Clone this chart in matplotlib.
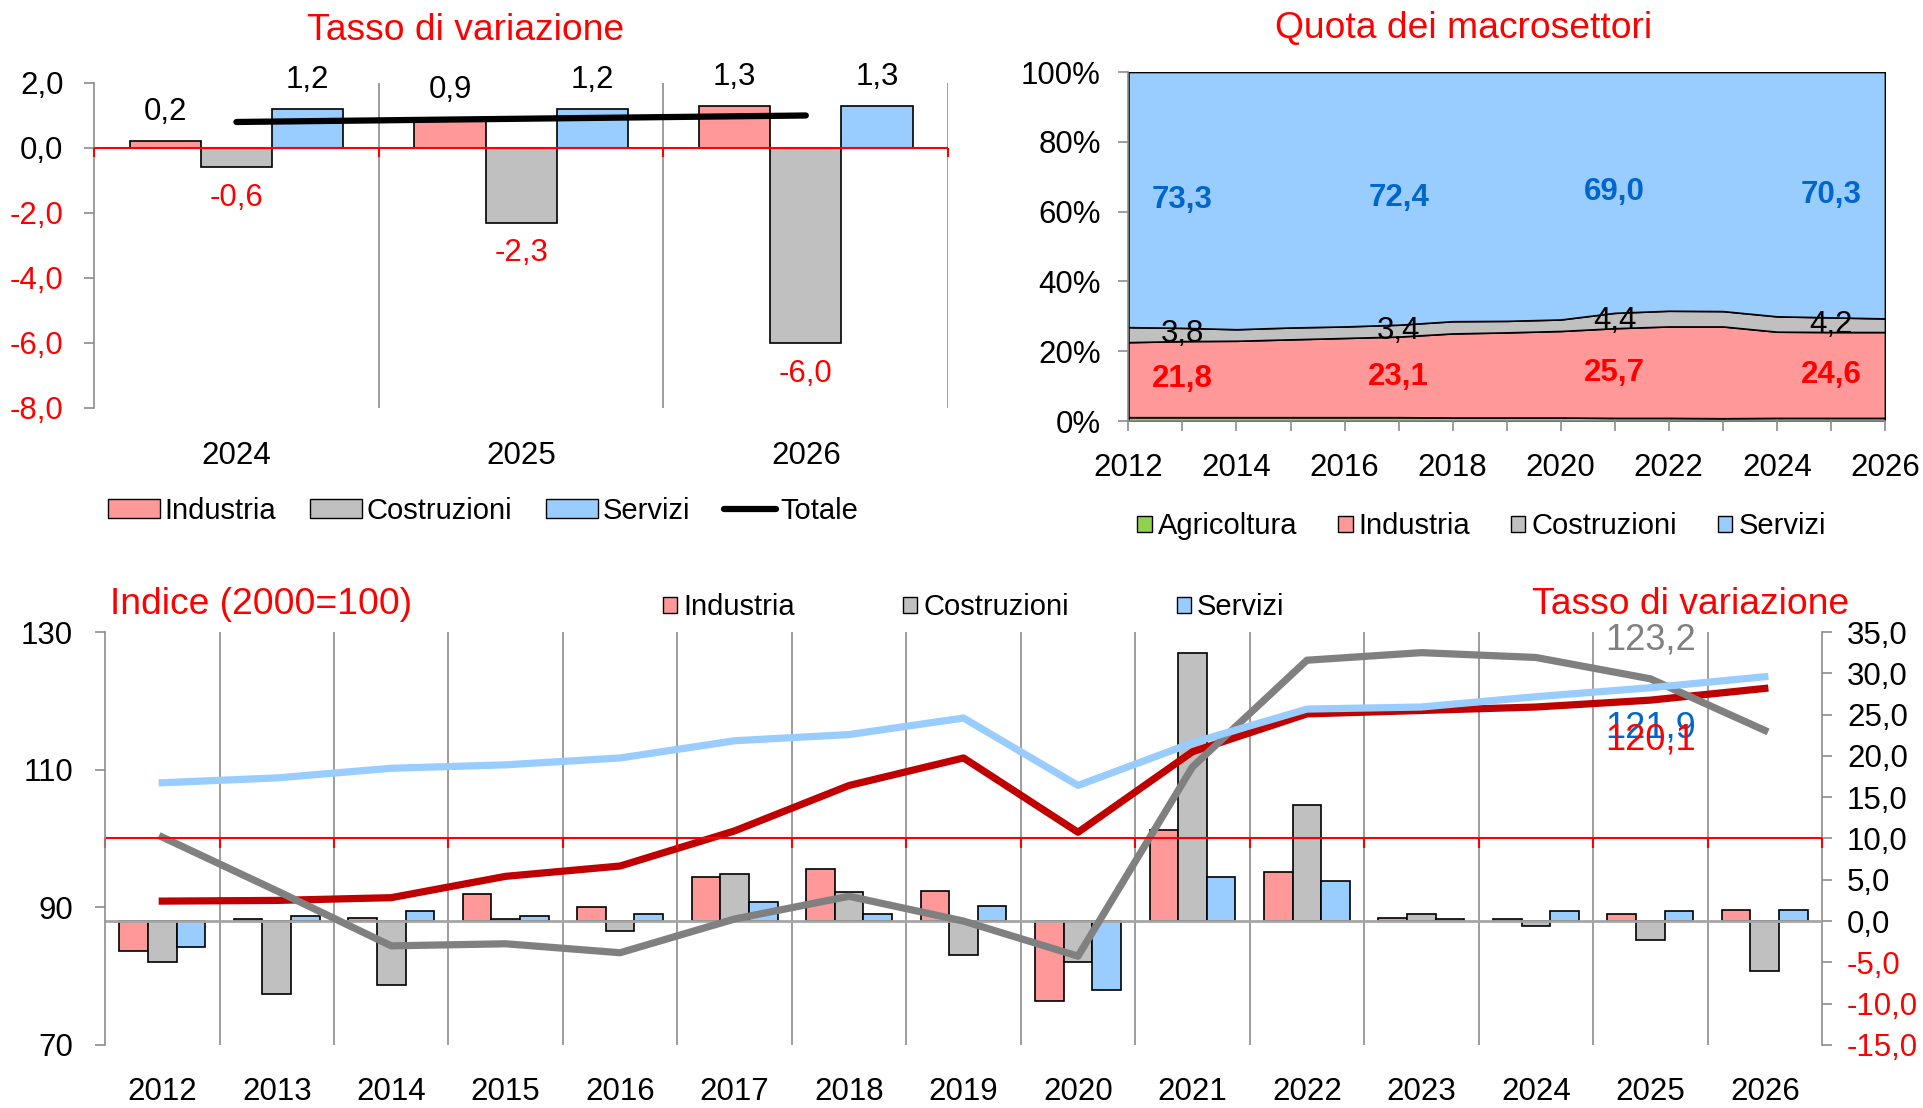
import numpy as np
import matplotlib
matplotlib.use('Agg')
import matplotlib.pyplot as plt
from matplotlib.patches import Patch
from matplotlib.lines import Line2D

plt.rcParams['font.family'] = ['Liberation Sans', 'DejaVu Sans']

# colori
C_IND = '#FF9999'
C_COS = '#C0C0C0'
C_SERV = '#99CCFF'
C_AGR = '#92D050'
GRID = '#8C8C8C'

# --- in alto a sinistra: tasso di variazione 2024-2026
tl_years = ['2024', '2025', '2026']
tl_ind = [0.2, 0.9, 1.3]
tl_cos = [-0.6, -2.3, -6.0]
tl_serv = [1.2, 1.2, 1.3]
tl_tot = [0.8, 0.9, 1.0]

# --- in alto a destra: quota dei macrosettori (%)
qt_years = list(range(2012, 2027))
qt_agr = [1.1, 1.1, 1.1, 1.1, 1.1, 1.1, 1.0, 1.0, 1.0, 0.9, 0.9, 0.8, 0.9, 0.9, 0.9]
qt_ind = [21.5, 21.8, 21.9, 22.3, 22.7, 23.1, 24.1, 24.4, 24.8, 25.7, 26.2, 26.3, 24.7, 24.6, 24.6]
qt_cos = [4.3, 3.8, 3.3, 3.4, 3.3, 3.4, 3.5, 3.3, 3.3, 4.4, 4.5, 4.4, 4.4, 4.2, 3.9]
qt_serv = [73.1, 73.3, 73.7, 73.2, 72.9, 72.4, 71.4, 71.3, 70.9, 69.0, 68.4, 68.5, 70.0, 70.3, 70.6]
qt_label_years = [2013, 2017, 2021, 2025]

# --- in basso: indice (2000=100) e tasso di variazione
bt_years = [str(y) for y in range(2012, 2027)]
idx_ind = [90.9, 91.0, 91.4, 94.5, 96.0, 101.1, 107.7, 111.7, 100.9, 112.6, 118.1, 118.6, 119.1, 120.1, 121.8]
idx_cos = [100.2, 92.4, 84.4, 84.7, 83.4, 88.3, 91.6, 88.0, 82.9, 110.4, 125.9, 127.0, 126.3, 123.2, 115.7]
idx_serv = [108.1, 108.8, 110.2, 110.7, 111.7, 114.2, 115.1, 117.5, 107.7, 113.9, 118.8, 119.1, 120.6, 121.9, 123.5]
var_ind = [-3.6, 0.2, 0.4, 3.3, 1.7, 5.3, 6.3, 3.7, -9.7, 11.0, 5.9, 0.4, 0.2, 0.9, 1.3]
var_cos = [-4.9, -8.8, -7.8, 0.2, -1.2, 5.7, 3.5, -4.1, -5.0, 32.4, 14.0, 0.8, -0.6, -2.3, -6.0]
var_serv = [-3.1, 0.6, 1.2, 0.6, 0.8, 2.3, 0.8, 1.8, -8.3, 5.3, 4.8, 0.25, 1.2, 1.2, 1.3]
label_year = '2025'


def fmt(v):
    return f'{v:.1f}'.replace('.', ',')


TICK_FS = 22.5
LEG_FS = 21
TITLE_FS = 26.8

fig = plt.figure(figsize=(19.24, 11.08), dpi=100)

# ================= in alto a sinistra =================
ax1 = fig.add_axes([0.0489, 0.6318, 0.4439, 0.2933])
x1 = np.arange(len(tl_years))
w = 0.25
ax1.bar(x1 - w, tl_ind, w, color=C_IND, edgecolor='black', linewidth=1.2, zorder=2)
ax1.bar(x1, tl_cos, w, color=C_COS, edgecolor='black', linewidth=1.2, zorder=2)
ax1.bar(x1 + w, tl_serv, w, color=C_SERV, edgecolor='black', linewidth=1.2, zorder=2)
ax1.plot(x1, tl_tot, color='black', linewidth=4.5, solid_capstyle='round', zorder=4)
ax1.set_xlim(-0.5, len(tl_years) - 0.5)
ax1.set_ylim(-8, 2)

bounds1 = np.arange(len(tl_years) + 1) - 0.5
ax1.vlines(bounds1[1:], -8, 2, color=GRID, linewidth=1.2, zorder=1)
ax1.axhline(0, color='red', linewidth=1.5, zorder=3)
ax1.vlines(bounds1, -0.28, 0, color='red', linewidth=1.5, zorder=3, clip_on=False)

for off, vals in zip([-w, 0, w], [tl_ind, tl_cos, tl_serv]):
    for xi, v in zip(x1, vals):
        ax1.annotate(fmt(v), (xi + off, v), xytext=(0, 21 if v >= 0 else -22),
                     textcoords='offset points', ha='center', va='center',
                     color='black' if v >= 0 else 'red', fontsize=TICK_FS)

yt1 = np.arange(-8, 2.1, 2)
ax1.set_yticks(yt1)
ax1.set_yticklabels([fmt(v) for v in yt1])
for lab, v in zip(ax1.get_yticklabels(), yt1):
    lab.set_color('red' if v < 0 else 'black')
ax1.set_xticks(x1)
ax1.set_xticklabels(tl_years)
ax1.tick_params(axis='y', length=7, width=1.2, color=GRID, pad=15, labelsize=TICK_FS)
ax1.tick_params(axis='x', length=0, pad=24, labelsize=TICK_FS)
for s in ['top', 'right', 'bottom']:
    ax1.spines[s].set_visible(False)
ax1.spines['left'].set_color(GRID)
ax1.spines['left'].set_linewidth(1.2)

fig.text(466 / 1924, 1 - 31 / 1108, 'Tasso di variazione', color='red',
         fontsize=TITLE_FS, ha='center', va='center')

h1 = [Patch(facecolor=C_IND, edgecolor='black', label='Industria'),
      Patch(facecolor=C_COS, edgecolor='black', label='Costruzioni'),
      Patch(facecolor=C_SERV, edgecolor='black', label='Servizi'),
      Line2D([], [], color='black', linewidth=4.5, solid_capstyle='round', label='Totale')]
fig.legend(handles=h1, loc='center', bbox_to_anchor=(0.251, 0.539), ncol=4, frameon=False,
           fontsize=LEG_FS, handlelength=1.8, handleheight=0.6, handletextpad=0.15,
           columnspacing=1.15)

# ================= in alto a destra =================
ax2 = fig.add_axes([0.5865, 0.620, 0.3932, 0.315])
ax2.stackplot(qt_years, qt_agr, qt_ind, qt_cos, qt_serv,
              colors=[C_AGR, C_IND, C_COS, C_SERV], edgecolor='black', linewidth=1.2)
ax2.set_xlim(qt_years[0], qt_years[-1])
ax2.set_ylim(0, 100)

for yr in qt_label_years:
    i = qt_years.index(yr)
    ax2.text(yr, qt_agr[i] + qt_ind[i] / 2, fmt(qt_ind[i]), color='red', fontweight='bold',
             fontsize=TICK_FS, ha='center', va='center')
    ax2.text(yr, qt_agr[i] + qt_ind[i] + qt_cos[i] / 2, fmt(qt_cos[i]), color='black',
             fontsize=TICK_FS, ha='center', va='center')
    ax2.text(yr, 100 - qt_serv[i] / 2, fmt(qt_serv[i]), color='#0066CC', fontweight='bold',
             fontsize=TICK_FS, ha='center', va='center')

ax2.set_xticks(qt_years)
ax2.set_xticklabels([str(y) if y % 2 == 0 else '' for y in qt_years])
yt2 = np.arange(0, 101, 20)
ax2.set_yticks(yt2)
ax2.set_yticklabels([f'{v}%' for v in yt2])
ax2.tick_params(axis='x', length=7, width=1.2, color=GRID, pad=16, labelsize=TICK_FS)
ax2.tick_params(axis='y', length=7, width=1.2, color=GRID, pad=13, labelsize=TICK_FS)
for s in ['top', 'right']:
    ax2.spines[s].set_visible(False)
for s in ['left', 'bottom']:
    ax2.spines[s].set_color(GRID)
    ax2.spines[s].set_linewidth(1.2)

fig.text(1464 / 1924, 1 - 28.5 / 1108, 'Quota dei macrosettori', color='red',
         fontsize=TITLE_FS, ha='center', va='center')

h2 = [Patch(facecolor=C_AGR, edgecolor='black', label='Agricoltura'),
      Patch(facecolor=C_IND, edgecolor='black', label='Industria'),
      Patch(facecolor=C_COS, edgecolor='black', label='Costruzioni'),
      Patch(facecolor=C_SERV, edgecolor='black', label='Servizi')]
fig.legend(handles=h2, loc='center', bbox_to_anchor=(0.770, 0.525), ncol=4, frameon=False,
           fontsize=LEG_FS, handlelength=0.5, handleheight=0.5, handletextpad=0.2,
           columnspacing=1.4)

# ================= in basso =================
ax3 = fig.add_axes([0.0546, 0.0569, 0.8924, 0.3727])
x3 = np.arange(len(bt_years))
ax3.bar(x3 - w, var_ind, w, color=C_IND, edgecolor='black', linewidth=1.2, zorder=2)
ax3.bar(x3, var_cos, w, color=C_COS, edgecolor='black', linewidth=1.2, zorder=2)
ax3.bar(x3 + w, var_serv, w, color=C_SERV, edgecolor='black', linewidth=1.2, zorder=2)
ax3.axhline(0, color='#A6A6A6', linewidth=2, zorder=3)
ax3.set_xlim(-0.5, len(bt_years) - 0.5)
ax3.set_ylim(-15, 35)
bounds3 = np.arange(len(bt_years) + 1) - 0.5
ax3.vlines(bounds3[1:-1], -15, 35, color=GRID, linewidth=1.2, zorder=0.5)

ax4 = ax3.twinx()
ax4.plot(x3, idx_ind, color='#C00000', linewidth=5.2)
ax4.plot(x3, idx_cos, color='#808080', linewidth=5.2)
ax4.plot(x3, idx_serv, color=C_SERV, linewidth=5.2)
ax4.set_ylim(70, 130)
ax4.axhline(100, color='red', linewidth=1.5)
ax4.vlines(bounds3, 100 - 1.4, 100, color='red', linewidth=1.5, clip_on=False)

j = bt_years.index(label_year)
ax4.annotate(fmt(idx_cos[j]), (x3[j], idx_cos[j]), xytext=(0, 28), textcoords='offset points',
             ha='center', va='center', color='#808080', fontsize=26)
ax4.annotate(fmt(idx_serv[j]), (x3[j], idx_serv[j]), xytext=(0, -29), textcoords='offset points',
             ha='center', va='center', color='#0066CC', fontsize=26)
ax4.annotate(fmt(idx_ind[j]), (x3[j], idx_ind[j]), xytext=(0, -29), textcoords='offset points',
             ha='center', va='center', color='red', fontsize=26)

ax3.yaxis.tick_right()
ax4.yaxis.tick_left()
yt3 = np.arange(-15, 35.1, 5)
ax3.set_yticks(yt3)
ax3.set_yticklabels([fmt(v) for v in yt3])
for lab, v in zip(ax3.get_yticklabels(), yt3):
    lab.set_color('red' if v < 0 else 'black')
ax4.set_yticks([70, 90, 110, 130])
ax3.set_xticks(x3)
ax3.set_xticklabels(bt_years)
ax3.tick_params(axis='x', length=0, pad=23, labelsize=TICK_FS)
ax3.tick_params(axis='y', length=7, width=1.2, color=GRID, pad=11, labelsize=TICK_FS)
ax4.tick_params(axis='y', length=7, width=1.2, color=GRID, pad=16, labelsize=TICK_FS)
for s in ['top', 'left', 'bottom']:
    ax3.spines[s].set_visible(False)
for s in ['top', 'right', 'bottom']:
    ax4.spines[s].set_visible(False)
ax3.spines['right'].set_color(GRID)
ax3.spines['right'].set_linewidth(1.2)
ax4.spines['left'].set_color(GRID)
ax4.spines['left'].set_linewidth(1.2)

fig.text(110 / 1924, 1 - 605 / 1108, 'Indice (2000=100)', color='red',
         fontsize=TITLE_FS, ha='left', va='center')
fig.text(1849 / 1924, 1 - 605 / 1108, 'Tasso di variazione', color='red',
         fontsize=TITLE_FS, ha='right', va='center')

h3 = [Patch(facecolor=C_IND, edgecolor='black', label='Industria'),
      Patch(facecolor=C_COS, edgecolor='black', label='Costruzioni'),
      Patch(facecolor=C_SERV, edgecolor='black', label='Servizi')]
fig.legend(handles=h3, loc='center', bbox_to_anchor=(0.506, 0.452), ncol=3, frameon=False,
           fontsize=LEG_FS, handlelength=0.5, handleheight=0.5, handletextpad=0.2,
           columnspacing=3.7)

fig.savefig('out.png', dpi=100)
